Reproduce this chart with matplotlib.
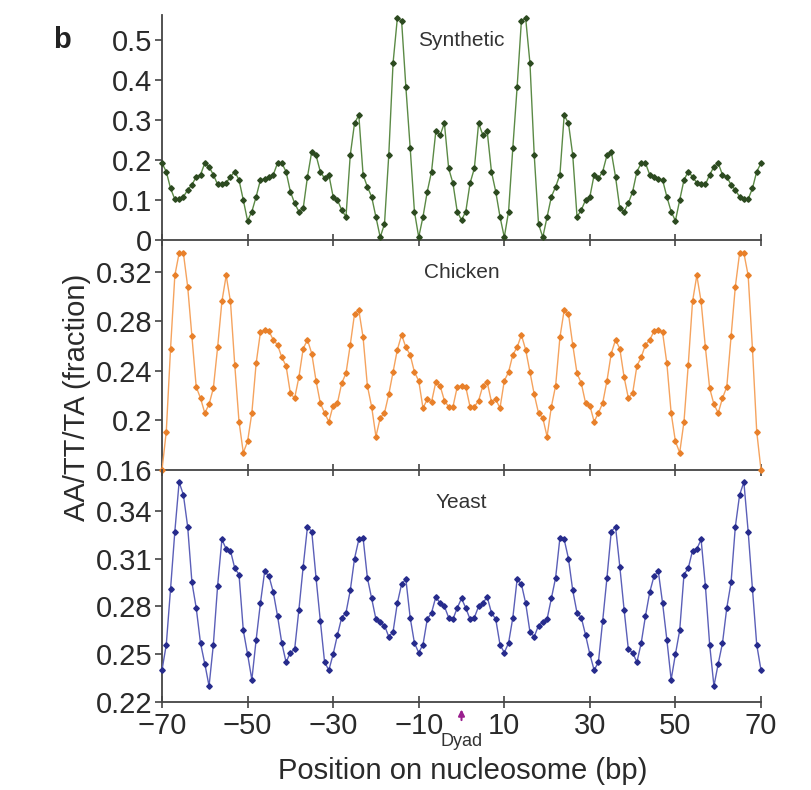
import numpy as np
import matplotlib
matplotlib.use('Agg')
import matplotlib.pyplot as plt

# --- Data: AA/TT/TA fraction at each position (bp -70 .. 70) ---
positions = np.arange(-70, 71)

synthetic = [
    0.192, 0.171, 0.129, 0.102, 0.102, 0.108, 0.125, 0.138, 0.158, 0.163,
    0.192, 0.183, 0.163, 0.139, 0.139, 0.143, 0.158, 0.171, 0.150, 0.100,
    0.048, 0.071, 0.108, 0.150, 0.153, 0.158, 0.163, 0.192, 0.192, 0.171,
    0.121, 0.092, 0.071, 0.079, 0.158, 0.221, 0.212, 0.171, 0.154, 0.163,
    0.108, 0.100, 0.075, 0.058, 0.212, 0.292, 0.312, 0.163, 0.133, 0.108,
    0.058, 0.007, 0.040, 0.212, 0.442, 0.554, 0.548, 0.382, 0.231, 0.071,
    0.007, 0.058, 0.121, 0.171, 0.272, 0.262, 0.292, 0.179, 0.142, 0.071,
    0.050,
    0.071, 0.142, 0.179, 0.292, 0.262, 0.272, 0.171, 0.121, 0.058, 0.007,
    0.071, 0.231, 0.382, 0.548, 0.554, 0.442, 0.212, 0.040, 0.007, 0.058,
    0.108, 0.133, 0.163, 0.312, 0.292, 0.212, 0.058, 0.075, 0.100, 0.108,
    0.163, 0.154, 0.171, 0.212, 0.221, 0.158, 0.079, 0.071, 0.092, 0.121,
    0.171, 0.192, 0.192, 0.163, 0.158, 0.153, 0.150, 0.108, 0.071, 0.048,
    0.100, 0.150, 0.171, 0.158, 0.143, 0.139, 0.139, 0.163, 0.183, 0.192,
    0.163, 0.158, 0.138, 0.125, 0.108, 0.102, 0.102, 0.129, 0.171, 0.192,
]

chicken = [
    0.160, 0.191, 0.258, 0.317, 0.335, 0.335, 0.308, 0.268, 0.227, 0.218,
    0.206, 0.213, 0.226, 0.259, 0.296, 0.317, 0.296, 0.245, 0.199, 0.174,
    0.183, 0.206, 0.246, 0.271, 0.273, 0.272, 0.265, 0.261, 0.251, 0.244,
    0.222, 0.218, 0.235, 0.258, 0.265, 0.254, 0.232, 0.214, 0.206, 0.199,
    0.212, 0.214, 0.230, 0.238, 0.261, 0.286, 0.289, 0.267, 0.228, 0.211,
    0.187, 0.202, 0.206, 0.221, 0.239, 0.257, 0.269, 0.259, 0.253, 0.239,
    0.232, 0.210, 0.217, 0.215, 0.231, 0.228, 0.216, 0.211, 0.211, 0.227,
    0.228,
    0.227, 0.211, 0.211, 0.216, 0.228, 0.231, 0.215, 0.217, 0.210, 0.232,
    0.239, 0.253, 0.259, 0.269, 0.257, 0.239, 0.221, 0.206, 0.202, 0.187,
    0.211, 0.228, 0.267, 0.289, 0.286, 0.261, 0.238, 0.230, 0.214, 0.212,
    0.199, 0.206, 0.214, 0.232, 0.254, 0.265, 0.258, 0.235, 0.218, 0.222,
    0.244, 0.251, 0.261, 0.265, 0.272, 0.273, 0.271, 0.246, 0.206, 0.183,
    0.174, 0.199, 0.245, 0.296, 0.317, 0.296, 0.259, 0.226, 0.213, 0.206,
    0.218, 0.227, 0.268, 0.308, 0.335, 0.335, 0.317, 0.258, 0.191, 0.160,
]

yeast = [
    0.240, 0.256, 0.291, 0.327, 0.358, 0.350, 0.330, 0.295, 0.279, 0.257,
    0.244, 0.230, 0.256, 0.293, 0.322, 0.316, 0.315, 0.304, 0.300, 0.265,
    0.250, 0.234, 0.259, 0.282, 0.302, 0.299, 0.289, 0.274, 0.257, 0.245,
    0.251, 0.253, 0.278, 0.305, 0.330, 0.327, 0.298, 0.271, 0.245, 0.240,
    0.250, 0.262, 0.273, 0.276, 0.290, 0.310, 0.322, 0.323, 0.298, 0.285,
    0.272, 0.270, 0.268, 0.261, 0.264, 0.282, 0.294, 0.297, 0.273, 0.257,
    0.251, 0.256, 0.272, 0.276, 0.286, 0.282, 0.280, 0.273, 0.272, 0.279,
    0.285,
    0.279, 0.272, 0.273, 0.280, 0.282, 0.286, 0.276, 0.272, 0.256, 0.251,
    0.257, 0.273, 0.297, 0.294, 0.282, 0.264, 0.261, 0.268, 0.270, 0.272,
    0.285, 0.298, 0.323, 0.322, 0.310, 0.290, 0.276, 0.273, 0.262, 0.250,
    0.240, 0.245, 0.271, 0.298, 0.327, 0.330, 0.305, 0.278, 0.253, 0.251,
    0.245, 0.257, 0.274, 0.289, 0.299, 0.302, 0.282, 0.259, 0.234, 0.250,
    0.265, 0.300, 0.304, 0.315, 0.316, 0.322, 0.293, 0.256, 0.230, 0.244,
    0.257, 0.279, 0.295, 0.330, 0.350, 0.358, 0.327, 0.291, 0.256, 0.240,
]

panel_names = ['Synthetic', 'Chicken', 'Yeast']
series = [synthetic, chicken, yeast]
y_limits = [(0, 0.5625), (0.16, 0.3456), (0.22, 0.3656)]
y_ticks = [[0, 0.1, 0.2, 0.3, 0.4, 0.5],
           [0.16, 0.2, 0.24, 0.28, 0.32],
           [0.22, 0.25, 0.28, 0.31, 0.34]]
y_tick_labels = [['0', '0.1', '0.2', '0.3', '0.4', '0.5'],
                 ['0.16', '0.2', '0.24', '0.28', '0.32'],
                 ['0.22', '0.25', '0.28', '0.31', '0.34']]
x_ticks = [-70, -50, -30, -10, 10, 30, 50, 70]
x_tick_labels = ['\u221270', '\u221250', '\u221230', '\u221210', '10', '30', '50', '70']

line_colors = ['#5b8a45', '#f5a35e', '#5b5fb8']
marker_colors = ['#2c4a20', '#e8802a', '#262b8c']

# --- Figure setup ---
plt.rcParams['font.family'] = ['Liberation Sans', 'DejaVu Sans']
W, H = 811, 790
fig = plt.figure(figsize=(W / 100, H / 100), dpi=100, facecolor='white')

# panel boxes in pixels: (top, bottom)
panel_px = [(15, 240), (240, 470), (470, 702)]
left_px, right_px = 162, 761

axes = []
for i, (top, bottom) in enumerate(panel_px):
    ax = fig.add_axes([left_px / W, 1 - bottom / H, (right_px - left_px) / W, (bottom - top) / H])
    ax.set_facecolor('none')
    ax.plot(positions, series[i], color=line_colors[i], lw=1.0,
            marker='D', ms=2.8, mfc=marker_colors[i], mec=marker_colors[i],
            clip_on=False, zorder=3)
    ax.set_xlim(-70, 70)
    ax.set_ylim(*y_limits[i])
    ax.set_yticks(y_ticks[i])
    ax.set_yticklabels(y_tick_labels[i])
    ax.set_xticks(x_ticks)
    if i == 2:
        ax.set_xticklabels(x_tick_labels)
    else:
        ax.set_xticklabels([])
    for side in ['top', 'right']:
        ax.spines[side].set_visible(False)
    for side in ['left', 'bottom']:
        ax.spines[side].set_color('#444444')
        ax.spines[side].set_linewidth(1.3)
    ax.tick_params(axis='y', direction='out', length=5, width=1.2, colors='#444444',
                   labelsize=21, labelcolor='#2a2a2a', pad=2)
    ax.tick_params(axis='x', direction='inout', length=9, width=1.2, colors='#444444',
                   labelsize=21, labelcolor='#2a2a2a', pad=3)
    title_y = [(240 - 40) / 225, (470 - 272) / 230, (702 - 502) / 232][i]
    ax.text(0, title_y, panel_names[i], transform=ax.get_xaxis_transform(),
            ha='center', va='center', fontsize=15, color='#333333')
    axes.append(ax)

# --- Dyad marker ---
ax3 = axes[2]
ax3.annotate('', xy=(0, -0.02), xytext=(0, -0.09),
             xycoords=ax3.get_xaxis_transform(), textcoords=ax3.get_xaxis_transform(),
             arrowprops=dict(arrowstyle='-|>', color='#9a1f8e', lw=1.5,
                             mutation_scale=9), annotation_clip=False)
ax3.text(0, -0.17, 'Dyad', transform=ax3.get_xaxis_transform(),
         ha='center', va='center', fontsize=13, color='#333333')

# --- Labels ---
fig.text(463 / W, 1 - 771 / H, 'Position on nucleosome (bp)', ha='center', va='center',
         fontsize=21, color='#2a2a2a')
fig.text(77 / W, 1 - 397 / H, 'AA/TT/TA (fraction)', ha='center', va='center',
         rotation=90, fontsize=21, color='#2a2a2a')
fig.text(62 / W, 1 - 40 / H, 'b', ha='center', va='center', fontsize=21,
         fontweight='bold', color='#222222')

fig.savefig('out.png', dpi=100, facecolor='white')
